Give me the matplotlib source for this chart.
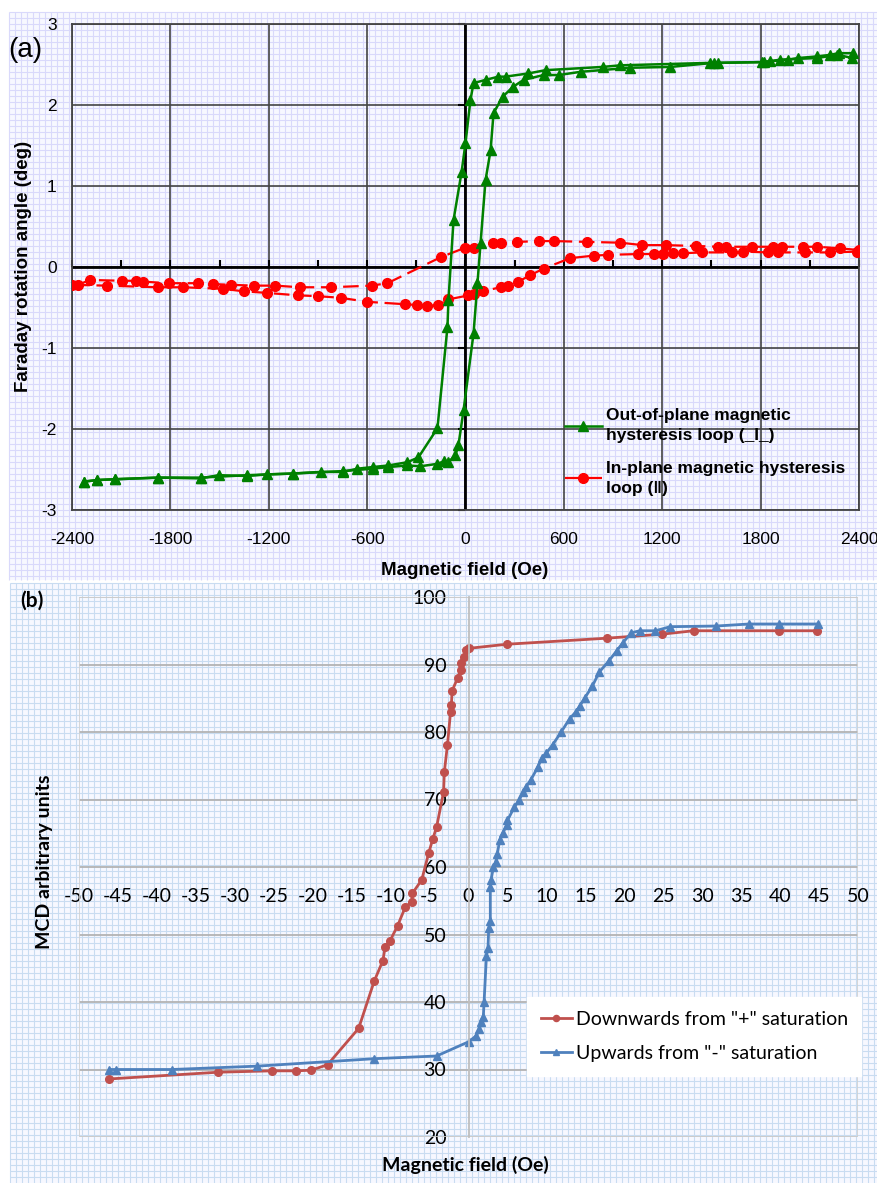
import numpy as np
import matplotlib
matplotlib.use("Agg")
import matplotlib.pyplot as plt
from matplotlib.patches import Rectangle

plt.rcParams['axes.unicode_minus'] = False

# ---- panel (a): Faraday rotation, out-of-plane loop (green) ----
green_down_x = [2366, 2275, 2226, 2146, 2030, 1970, 1860, 1811, 1537, 1494, 945, 836, 488, 384, 244, 201,
                122, 49, 30, 0, -24, -73, -104, -110, -171, -287, -354, -470, -567, -659, -750, -884, -1055,
                -1208, -1330, -1506, -1616, -1873, -2135, -2245, -2329]
green_down_y = [2.64, 2.64, 2.62, 2.60, 2.58, 2.56, 2.54, 2.53, 2.52, 2.52, 2.49, 2.47, 2.43, 2.39, 2.35, 2.35,
                2.31, 2.27, 2.06, 1.53, 1.17, 0.58, -0.41, -0.74, -1.99, -2.35, -2.41, -2.45, -2.47, -2.49, -2.53,
                -2.53, -2.55, -2.56, -2.58, -2.57, -2.61, -2.60, -2.62, -2.63, -2.65]
green_up_x = [-2329, -2245, -2135, -1873, -1616, -1330, -1055, -750, -567, -470, -354, -275, -171, -134, -104,
              -61, -43, -12, 49, 73, 92, 122, 153, 171, 226, 287, 354, 476, 568, 703, 1006, 1250, 1513, 1819,
              1921, 2146, 2268, 2360]
green_up_y = [-2.65, -2.63, -2.62, -2.60, -2.60, -2.57, -2.55, -2.52, -2.49, -2.47, -2.45, -2.46, -2.43, -2.40,
              -2.41, -2.32, -2.20, -1.77, -0.82, -0.20, 0.30, 1.07, 1.44, 1.90, 2.10, 2.22, 2.31, 2.37, 2.37,
              2.41, 2.46, 2.47, 2.52, 2.53, 2.56, 2.58, 2.62, 2.58]

# ---- panel (a): in-plane loop (red) ----
red_up_x = [-2366, -2288, -2092, -2012, -1970, -1811, -1634, -1543, -1433, -1287, -1159, -1012, -823, -573,
            -476, -152, 0, 49, 165, 214, 317, 451, 537, 744, 945, 1079, 1220, 1403, 1543, 1586, 1750, 1878,
            1933, 2061, 2146, 2287, 2397]
red_up_y = [-0.22, -0.16, -0.17, -0.17, -0.18, -0.20, -0.20, -0.21, -0.22, -0.23, -0.23, -0.25, -0.25, -0.23,
            -0.20, 0.12, 0.24, 0.24, 0.30, 0.30, 0.31, 0.32, 0.32, 0.31, 0.30, 0.27, 0.27, 0.26, 0.25, 0.25,
            0.25, 0.25, 0.25, 0.25, 0.25, 0.23, 0.21]
red_down_x = [2390, 2226, 2073, 1909, 1848, 1695, 1628, 1445, 1329, 1268, 1207, 1152, 1055, 872, 781, 640, 476,
              396, 323, 262, 214, 104, 49, 18, -104, -165, -232, -293, -366, -598, -762, -902, -1024, -1208,
              -1354, -1476, -1726, -1873, -2189, -2400]
red_down_y = [0.19, 0.18, 0.18, 0.18, 0.18, 0.19, 0.18, 0.18, 0.17, 0.17, 0.16, 0.16, 0.16, 0.15, 0.14, 0.11,
              -0.02, -0.10, -0.18, -0.23, -0.25, -0.30, -0.33, -0.35, -0.40, -0.47, -0.48, -0.47, -0.46, -0.43,
              -0.38, -0.36, -0.35, -0.32, -0.30, -0.27, -0.25, -0.25, -0.23, -0.22]

# ---- panel (b): MCD loop ----
down_x = [44.8, 39.8, 28.9, 24.9, 17.8, 4.9, 0.1, -0.3, -0.6, -0.9, -1.0, -1.4, -2.1, -2.2, -2.3, -2.7, -3.1,
          -3.2, -4.1, -4.6, -5.1, -6.0, -7.2, -7.3, -8.1, -9.1, -10.1, -10.7, -11.0, -12.1, -14.1, -18.1, -20.2,
          -22.1, -25.2, -32.1, -46.1]
down_y = [95.0, 95.0, 95.0, 94.5, 93.9, 93.0, 92.4, 92.1, 91.1, 90.2, 89.2, 88.0, 86.1, 84.0, 83.0, 78.1, 74.1,
          71.1, 65.9, 64.1, 62.1, 58.1, 56.1, 54.8, 54.1, 51.3, 49.0, 48.1, 46.1, 43.1, 36.1, 30.7, 29.9, 29.8,
          29.8, 29.6, 28.6]
up_x = [-46.1, -45.2, -38.1, -27.1, -12.1, -4.1, 0.0, 1.0, 1.4, 1.6, 1.9, 2.0, 2.3, 2.5, 2.6, 2.8, 2.8, 2.9, 3.2,
        3.5, 3.7, 4.0, 4.4, 4.9, 5.0, 5.9, 6.5, 7.0, 7.4, 8.0, 8.9, 9.4, 10.0, 10.8, 11.9, 13.0, 13.8, 14.3,
        14.9, 15.9, 16.8, 18.0, 19.0, 19.8, 20.9, 22.0, 24.0, 25.9, 31.8, 36.0, 39.8, 44.9]
up_y = [30.0, 30.0, 30.0, 30.5, 31.6, 32.0, 34.1, 35.0, 36.0, 37.0, 37.8, 40.0, 46.8, 48.0, 51.0, 52.0, 57.0,
        58.1, 60.0, 60.7, 61.9, 64.0, 65.0, 66.2, 66.9, 68.9, 69.9, 71.1, 71.9, 72.9, 74.8, 76.1, 76.9, 78.1,
        80.0, 82.0, 83.0, 83.9, 85.0, 86.8, 88.9, 90.5, 92.0, 93.2, 94.7, 95.0, 95.0, 95.6, 95.7, 96.0, 96.0,
        96.0]

W, H = 877, 1183
fig = plt.figure(figsize=(W / 100, H / 100), dpi=100)
fontA = ['Liberation Sans', 'DejaVu Sans']
fontB = ['Lato', 'DejaVu Sans']

# graph-paper background (pixel coordinates)
bg = fig.add_axes([0, 0, 1, 1])
bg.set_xlim(0, W)
bg.set_ylim(H, 0)
bg.axis('off')
for (y0, y1, x0, col) in [(12, 580, 9, '#d9d9fb'), (583, H, 10, '#c9dcf1')]:
    bg.add_patch(Rectangle((x0, y0), W - x0, y1 - y0, facecolor='#f7f8ff', edgecolor='none'))
    bg.vlines(np.arange(x0, W, 6), y0, y1, color=col, lw=0.8)
    bg.hlines(np.arange(y0, y1, 6), x0, W, color=col, lw=0.8)

# ---------------- panel (a) ----------------
ax = fig.add_axes([72 / W, 1 - 510 / H, 787 / W, 486 / H])
ax.patch.set_alpha(0)
ax.set_xlim(-2400, 2400)
ax.set_ylim(-3, 3)
ax.set_xticks(np.arange(-2400, 2401, 600))
ax.set_yticks(np.arange(-3, 4, 1))
ax.grid(True, color='#444444', lw=1.2)
for s in ax.spines.values():
    s.set_color('#444444')
    s.set_linewidth(1.3)
ax.tick_params(length=0, labelsize=12.5)
ax.tick_params(axis='x', pad=16)
ax.tick_params(axis='y', pad=11)
for lab in ax.get_xticklabels() + ax.get_yticklabels():
    lab.set_family(fontA)
ax.axhline(0, color='black', lw=2, zorder=2)
ax.axvline(0, color='black', lw=2, zorder=2)
xt = np.arange(-2400, 2401, 300)
ax.plot(xt, np.zeros_like(xt), ls='none', marker=2, ms=5, mew=1.5, color='black', clip_on=False)
yt = np.arange(-3, 4, 1)
ax.plot(np.zeros_like(yt), yt, ls='none', marker=0, ms=5, mew=1.5, color='black', clip_on=False)

ax.plot(green_down_x, green_down_y, color='#008000', lw=1.8, marker='^', ms=7, zorder=4,
        label='Out-of-plane magnetic\nhysteresis loop (_I_)')
ax.plot(green_up_x, green_up_y, color='#008000', lw=1.8, marker='^', ms=7, zorder=4)
ax.plot(red_up_x, red_up_y, color='#ff0000', lw=1.6, ls=(0, (7, 3)), marker='o', ms=7, zorder=3,
        label='In-plane magnetic hysteresis\nloop (\u2016)')
ax.plot(red_down_x, red_down_y, color='#ff0000', lw=1.6, ls=(0, (7, 3)), marker='o', ms=7, zorder=3)

leg = ax.legend(loc='lower right', borderaxespad=0, prop={'family': fontA, 'weight': 'bold', 'size': 12.5},
                handlelength=2.1, handletextpad=0.25, labelspacing=1.0, borderpad=0.8, fancybox=False,
                framealpha=0)
leg.get_frame().set_edgecolor('#555555')
leg.get_frame().set_linewidth(1.5)
for t in leg.get_texts():
    t.set_linespacing(1.45)

fig.text(465 / W, 1 - 570 / H, 'Magnetic field (Oe)', ha='center', va='center', fontsize=13.5,
         fontweight='bold', family=fontA)
fig.text(24 / W, 1 - 266 / H, 'Faraday rotation angle (deg)', ha='center', va='center', rotation=90,
         fontsize=13.5, fontweight='bold', family=fontA)
fig.text(8 / W, 1 - 50 / H, '(a)', ha='left', va='center', fontsize=20, family=fontA)

# ---------------- panel (b) ----------------
bx = fig.add_axes([79 / W, 1 - 1137 / H, 779 / W, 540 / H])
bx.patch.set_alpha(0)
bx.set_xlim(-50, 50)
bx.set_ylim(20, 100)
bx.set_xticks(np.arange(-50, 51, 5))
bx.set_yticks(np.arange(20, 101, 10))
bx.yaxis.grid(True, color='#b3b3b3', lw=1.3)
bx.set_axisbelow(True)
for s in bx.spines.values():
    s.set_visible(False)
bx.spines['left'].set_visible(True)
bx.spines['left'].set_position(('data', 0))
bx.spines['left'].set_color('#bfbfbf')
bx.spines['left'].set_linewidth(1.3)
bx.spines['bottom'].set_position(('data', 57.5))
bx.add_patch(Rectangle((0, 0), 1, 1, transform=bx.transAxes, fill=False, edgecolor='#d0d0d0', lw=1.2))
bx.tick_params(length=0, labelsize=14)
bx.tick_params(axis='y', pad=16)
bx.tick_params(axis='x', pad=3)
for lab in bx.get_xticklabels() + bx.get_yticklabels():
    lab.set_family(fontB)

bx.plot(down_x, down_y, color='#c0504d', lw=2, marker='o', ms=5.5, label='Downwards from "+" saturation')
bx.plot(up_x, up_y, color='#4f81bd', lw=2, marker='^', ms=5.5, label='Upwards from "-" saturation')

leg2 = bx.legend(loc='upper left', bbox_to_anchor=(527 / W, 1 - 997 / H), bbox_transform=fig.transFigure,
                 borderaxespad=0, prop={'family': fontB, 'size': 14}, handlelength=1.6, handletextpad=0.2,
                 labelspacing=0.9, borderpad=0.7, fancybox=False, framealpha=1, markerscale=0.8)
leg2.get_frame().set_edgecolor('white')
leg2.get_frame().set_facecolor('white')

fig.text(465 / W, 1 - 1165 / H, 'Magnetic field (Oe)', ha='center', va='center', fontsize=14,
         fontweight='bold', family=fontB)
fig.text(45 / W, 1 - 862 / H, 'MCD arbitrary units', ha='center', va='center', rotation=90,
         fontsize=14, fontweight='bold', family=fontB)
fig.text(20 / W, 1 - 601 / H, '(b)', ha='left', va='center', fontsize=15, fontweight='bold', family=fontB)

fig.savefig('out.png', dpi=100)
